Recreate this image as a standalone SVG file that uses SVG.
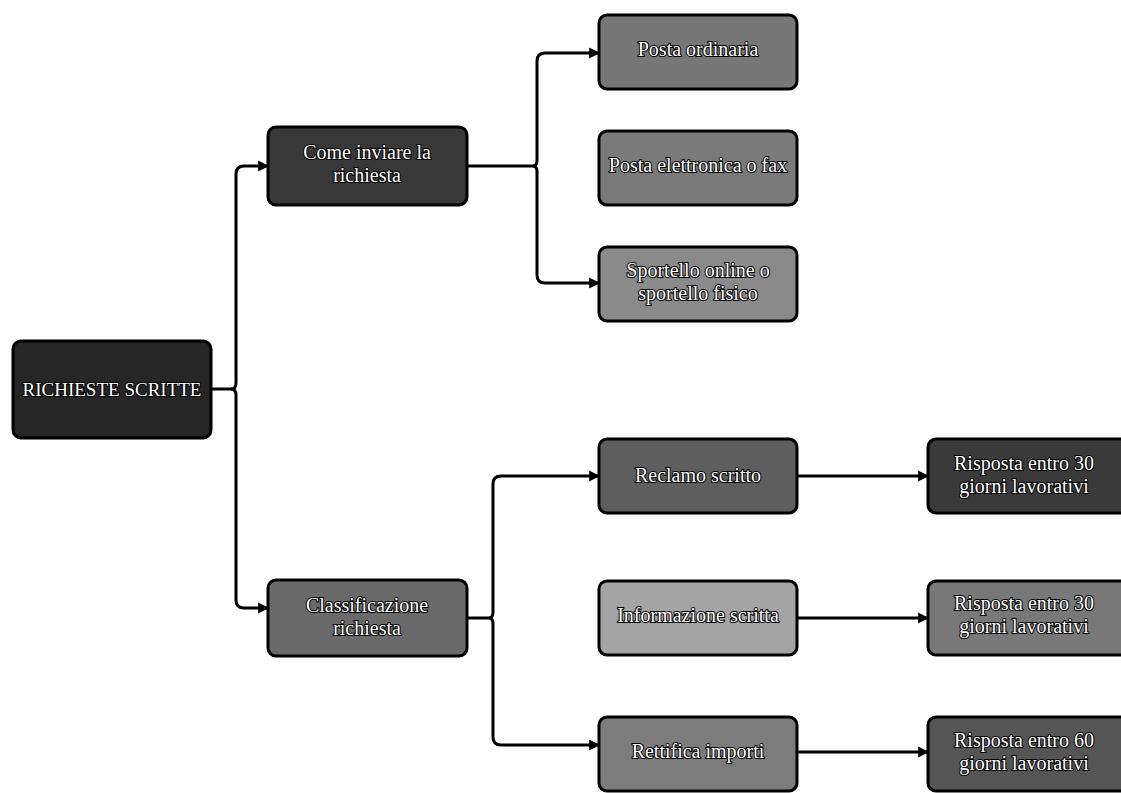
<svg xmlns="http://www.w3.org/2000/svg" width="1121" height="793" viewBox="0 0 1121 793">
<defs>
<marker id="arr" viewBox="0 0 10 10" refX="9" refY="5" markerWidth="11" markerHeight="12" markerUnits="userSpaceOnUse" orient="auto"><path d="M0,0 L10,5 L0,10 z" fill="#000"/></marker>
</defs>
<style>
.box{stroke:#000;stroke-width:3}
.t{font-family:"Liberation Serif","Times New Roman",serif;font-size:20px;fill:#fff;stroke:#000;stroke-width:2;paint-order:stroke;text-anchor:middle}
.c{fill:none;stroke:#000;stroke-width:3}
.a{fill:none;stroke:#000;stroke-width:3;marker-end:url(#arr)}
</style>
<rect width="1121" height="793" fill="#fff"/>
<g id="connectors">
<path class="c" d="M211,389 H231"/>
<path class="a" d="M231,389 Q236,389 236,383 V174 Q236,166 244,166 H268"/>
<path class="a" d="M231,389 Q236,389 236,395 V600 Q236,608 244,608 H268"/>
<path class="c" d="M467,166 H533"/>
<path class="a" d="M533,166 Q537,166 537,160 V61 Q537,53 545,53 H599"/>
<path class="a" d="M533,166 Q537,166 537,172 V275 Q537,283 545,283 H599"/>
<path class="c" d="M467,618 H489"/>
<path class="a" d="M489,618 Q493,618 493,612 V484 Q493,476 501,476 H599"/>
<path class="a" d="M489,618 Q493,618 493,624 V737 Q493,745 501,745 H599"/>
<path class="a" d="M797,476 H928"/>
<path class="a" d="M797,618 H928"/>
<path class="a" d="M797,752 H928"/>
</g>
<g id="n-root"><rect class="box" x="13" y="341" width="198" height="97" rx="8" fill="#262626"/><text class="t" x="112" y="396" style="font-size:19px">RICHIESTE SCRITTE</text></g>
<g id="n-come"><rect class="box" x="268" y="127" width="199" height="78" rx="8" fill="#383838"/><text class="t" x="367" y="159">Come inviare la</text><text class="t" x="367" y="182">richiesta</text></g>
<g id="n-class"><rect class="box" x="268" y="580" width="199" height="76" rx="8" fill="#6a6a6a"/><text class="t" x="367" y="612">Classificazione</text><text class="t" x="367" y="635">richiesta</text></g>
<g id="n-posta"><rect class="box" x="599" y="15" width="198" height="74" rx="8" fill="#777"/><text class="t" x="698" y="56">Posta ordinaria</text></g>
<g id="n-email"><rect class="box" x="599" y="131" width="198" height="74" rx="8" fill="#7a7a7a"/><text class="t" x="698" y="172">Posta elettronica o fax</text></g>
<g id="n-sportello"><rect class="box" x="599" y="247" width="198" height="74" rx="8" fill="#8a8a8a"/><text class="t" x="698" y="277">Sportello online o</text><text class="t" x="698" y="300">sportello fisico</text></g>
<g id="n-reclamo"><rect class="box" x="599" y="439" width="198" height="74" rx="8" fill="#5e5e5e"/><text class="t" x="698" y="482">Reclamo scritto</text></g>
<g id="n-info"><rect class="box" x="599" y="581" width="198" height="74" rx="8" fill="#a4a4a4"/><text class="t" x="698" y="622">Informazione scritta</text></g>
<g id="n-rettifica"><rect class="box" x="599" y="717" width="198" height="74" rx="8" fill="#7c7c7c"/><text class="t" x="698" y="758">Rettifica importi</text></g>
<g id="n-r1"><rect class="box" x="928" y="439" width="200" height="74" rx="8" fill="#3a3a3a"/><text class="t" x="1024" y="470">Risposta entro 30</text><text class="t" x="1024" y="493">giorni lavorativi</text></g>
<g id="n-r2"><rect class="box" x="928" y="581" width="200" height="74" rx="8" fill="#787878"/><text class="t" x="1024" y="610">Risposta entro 30</text><text class="t" x="1024" y="633">giorni lavorativi</text></g>
<g id="n-r3"><rect class="box" x="928" y="717" width="200" height="74" rx="8" fill="#555"/><text class="t" x="1024" y="747">Risposta entro 60</text><text class="t" x="1024" y="770">giorni lavorativi</text></g>
</svg>
